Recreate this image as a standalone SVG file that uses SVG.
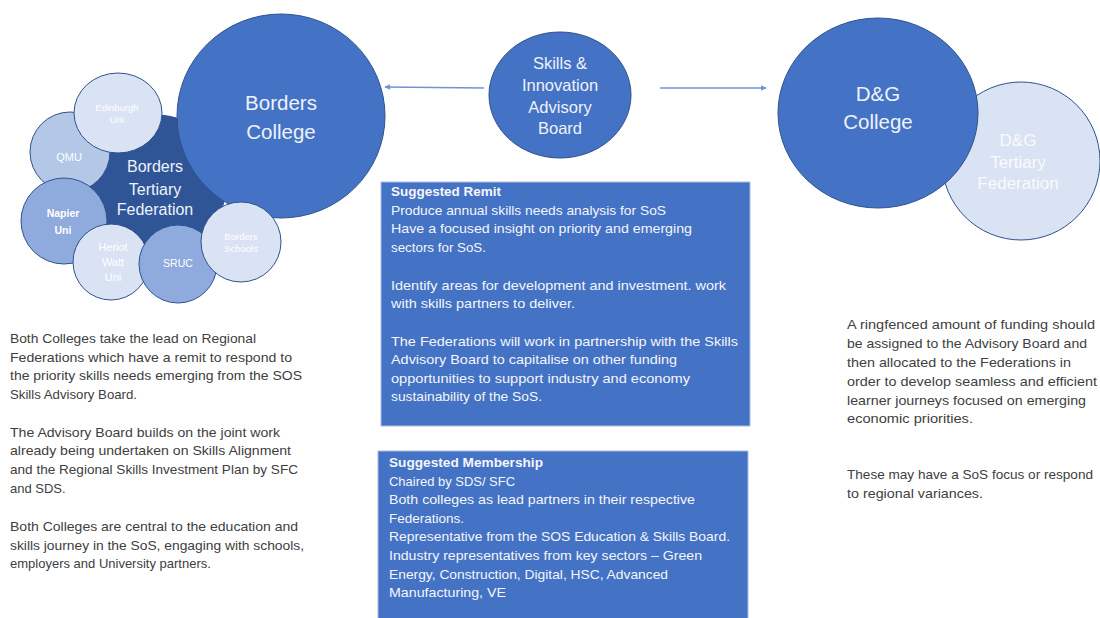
<svg xmlns="http://www.w3.org/2000/svg" width="1100" height="618" viewBox="0 0 1100 618">
<defs>
<style>
text{font-family:"Liberation Sans",Arial,sans-serif}
.circ{stroke:#2F528F;stroke-width:1}
.main{fill:#4472C4}
.dark{fill:#2F5597}
.l1{fill:#DAE3F3}
.l2{fill:#B4C7E7}
.l3{fill:#8FAADC}
.ct{fill:#EEF2FA;text-anchor:middle}
.st{fill:#FFFFFF;text-anchor:middle}
.box{fill:#4472C4;stroke:#A9BCE3;stroke-width:1}
.bt{fill:#F4F6FB;font-size:13.5px}
.bh{font-weight:bold}
.pt{fill:#404040;font-size:13px}
.pr{fill:#404040;font-size:13.5px}
.conn{stroke:#6F93D5;stroke-width:1.5;fill:none}
</style>
<marker id="ah" viewBox="0 0 10 10" refX="9" refY="5" markerWidth="6" markerHeight="6" orient="auto-start-reverse" markerUnits="userSpaceOnUse">
<path d="M0,0 L10,5 L0,10 z" fill="#6F93D5"/>
</marker>
</defs>
<rect width="1100" height="618" fill="#FFFFFF"/>

<g id="connectors">
<line class="conn" x1="484" y1="88" x2="385" y2="87" marker-end="url(#ah)"/>
<line class="conn" x1="660" y1="88" x2="766" y2="88" marker-end="url(#ah)"/>
</g>

<g id="borders-tertiary-federation">
<circle class="circ dark" cx="156" cy="185" r="70"/>
<text class="ct" font-size="16" x="155" y="172">Borders</text>
<text class="ct" font-size="16" x="155" y="195">Tertiary</text>
<text class="ct" font-size="16" x="155" y="215">Federation</text>
</g>

<g id="borders-college">
<ellipse class="circ main" cx="281" cy="116" rx="104" ry="102"/>
<text class="ct" font-size="20.5" x="281" y="110">Borders</text>
<text class="ct" font-size="20.5" x="281" y="139">College</text>
</g>

<g id="qmu">
<circle class="circ l2" cx="70" cy="152" r="40"/>
<text class="st" font-size="11" x="69" y="161">QMU</text>
</g>

<g id="edinburgh-uni">
<ellipse class="circ l1" cx="118" cy="113" rx="44" ry="40"/>
<text class="st" font-size="9.5" x="117" y="111">Edinburgh</text>
<text class="st" font-size="9.5" x="117" y="123">Uni</text>
</g>

<g id="napier-uni">
<circle class="circ l3" cx="64" cy="221" r="43"/>
<text class="st bh" font-size="10.5" x="63" y="217">Napier</text>
<text class="st bh" font-size="10.5" x="63" y="234">Uni</text>
</g>

<g id="heriot-watt-uni">
<circle class="circ l1" cx="111" cy="262" r="38"/>
<text class="st" font-size="11" x="113" y="251">Heriot</text>
<text class="st" font-size="11" x="113" y="266">Watt</text>
<text class="st" font-size="11" x="113" y="281">Uni</text>
</g>

<g id="sruc">
<circle class="circ l3" cx="178" cy="264" r="39"/>
<text class="st" font-size="10.5" x="178" y="267">SRUC</text>
</g>

<g id="borders-schools">
<circle class="circ l1" cx="241" cy="242" r="40"/>
<text class="st" font-size="9.5" x="241" y="240">Borders</text>
<text class="st" font-size="9.5" x="241" y="252">Schools</text>
</g>

<g id="skills-innovation-advisory-board">
<ellipse class="circ main" cx="560" cy="95" rx="71" ry="63"/>
<text class="ct" font-size="16.5" x="560" y="69">Skills &amp;</text>
<text class="ct" font-size="16.5" x="560" y="91">Innovation</text>
<text class="ct" font-size="16.5" x="560" y="113">Advisory</text>
<text class="ct" font-size="16.5" x="560" y="134">Board</text>
</g>

<g id="dg-tertiary-federation">
<circle class="circ l1" cx="1021" cy="161" r="79"/>
<text class="st" font-size="17" x="1018" y="146" fill-opacity="0.85">D&amp;G</text>
<text class="st" font-size="17" x="1018" y="168" fill-opacity="0.85">Tertiary</text>
<text class="st" font-size="17" x="1018" y="189" fill-opacity="0.85">Federation</text>
</g>

<g id="dg-college">
<ellipse class="circ main" cx="878" cy="113" rx="100" ry="95"/>
<text class="ct" font-size="20.5" x="878" y="101">D&amp;G</text>
<text class="ct" font-size="20.5" x="878" y="129">College</text>
</g>

<g id="suggested-remit">
<rect class="box" x="381" y="182" width="369" height="244"/>
<text class="bt bh" x="391" y="196" textLength="110" lengthAdjust="spacingAndGlyphs">Suggested Remit</text>
<text class="bt" x="391" y="215" textLength="275" lengthAdjust="spacingAndGlyphs">Produce annual skills needs analysis for SoS</text>
<text class="bt" x="391" y="233" textLength="301" lengthAdjust="spacingAndGlyphs">Have a focused insight on priority and emerging</text>
<text class="bt" x="391" y="252" textLength="95" lengthAdjust="spacingAndGlyphs">sectors for SoS.</text>
<text class="bt" x="391" y="290" textLength="335" lengthAdjust="spacingAndGlyphs">Identify areas for development and investment. work</text>
<text class="bt" x="391" y="308" textLength="184" lengthAdjust="spacingAndGlyphs">with skills partners to deliver.</text>
<text class="bt" x="391" y="346" textLength="347" lengthAdjust="spacingAndGlyphs">The Federations will work in partnership with the Skills</text>
<text class="bt" x="391" y="364" textLength="286" lengthAdjust="spacingAndGlyphs">Advisory Board to capitalise on other funding</text>
<text class="bt" x="391" y="383" textLength="299" lengthAdjust="spacingAndGlyphs">opportunities to support industry and economy</text>
<text class="bt" x="391" y="401" textLength="151" lengthAdjust="spacingAndGlyphs">sustainability of the SoS.</text>
</g>

<g id="suggested-membership">
<rect class="box" x="378" y="451" width="370" height="172"/>
<text class="bt bh" x="389" y="467" textLength="154" lengthAdjust="spacingAndGlyphs">Suggested Membership</text>
<text class="bt" x="389" y="486" textLength="126" lengthAdjust="spacingAndGlyphs">Chaired by SDS/ SFC</text>
<text class="bt" x="389" y="504" textLength="306" lengthAdjust="spacingAndGlyphs">Both colleges as lead partners in their respective</text>
<text class="bt" x="389" y="523">Federations.</text>
<text class="bt" x="389" y="541" textLength="341" lengthAdjust="spacingAndGlyphs">Representative from the SOS Education &amp; Skills Board.</text>
<text class="bt" x="389" y="560" textLength="313" lengthAdjust="spacingAndGlyphs">Industry representatives from key sectors – Green</text>
<text class="bt" x="389" y="579" textLength="279" lengthAdjust="spacingAndGlyphs">Energy, Construction, Digital, HSC, Advanced</text>
<text class="bt" x="389" y="597" textLength="117" lengthAdjust="spacingAndGlyphs">Manufacturing, VE</text>
</g>

<g id="left-notes">
<text class="pt" x="10" y="343" textLength="246" lengthAdjust="spacingAndGlyphs">Both Colleges take the lead on Regional</text>
<text class="pt" x="10" y="362" textLength="282" lengthAdjust="spacingAndGlyphs">Federations which have a remit to respond to</text>
<text class="pt" x="10" y="380" textLength="292" lengthAdjust="spacingAndGlyphs">the priority skills needs emerging from the SOS</text>
<text class="pt" x="10" y="399" textLength="127" lengthAdjust="spacingAndGlyphs">Skills Advisory Board.</text>
<text class="pt" x="10" y="437" textLength="270" lengthAdjust="spacingAndGlyphs">The Advisory Board builds on the joint work</text>
<text class="pt" x="10" y="455" textLength="281" lengthAdjust="spacingAndGlyphs">already being undertaken on Skills Alignment</text>
<text class="pt" x="10" y="474" textLength="288" lengthAdjust="spacingAndGlyphs">and the Regional Skills Investment Plan by SFC</text>
<text class="pt" x="10" y="493">and SDS.</text>
<text class="pt" x="10" y="531" textLength="288" lengthAdjust="spacingAndGlyphs">Both Colleges are central to the education and</text>
<text class="pt" x="10" y="550" textLength="294" lengthAdjust="spacingAndGlyphs">skills journey in the SoS, engaging with schools,</text>
<text class="pt" x="10" y="568">employers and University partners.</text>
</g>

<g id="right-notes">
<text class="pr" x="847" y="329" textLength="248" lengthAdjust="spacingAndGlyphs">A ringfenced amount of funding should</text>
<text class="pr" x="847" y="348" textLength="240" lengthAdjust="spacingAndGlyphs">be assigned to the Advisory Board and</text>
<text class="pr" x="847" y="367" textLength="224" lengthAdjust="spacingAndGlyphs">then allocated to the Federations in</text>
<text class="pr" x="847" y="386" textLength="250" lengthAdjust="spacingAndGlyphs">order to develop seamless and efficient</text>
<text class="pr" x="847" y="405" textLength="239" lengthAdjust="spacingAndGlyphs">learner journeys focused on emerging</text>
<text class="pr" x="847" y="423" textLength="126" lengthAdjust="spacingAndGlyphs">economic priorities.</text>
<text class="pr" x="847" y="479" textLength="246" lengthAdjust="spacingAndGlyphs">These may have a SoS focus or respond</text>
<text class="pr" x="847" y="498" textLength="136" lengthAdjust="spacingAndGlyphs">to regional variances.</text>
</g>
</svg>
